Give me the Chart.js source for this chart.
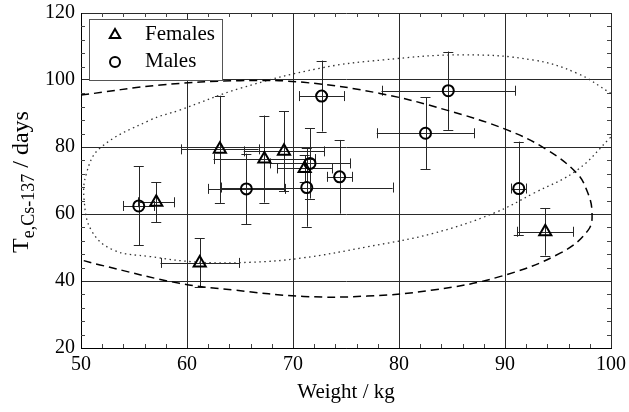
<!DOCTYPE html>
<html><head><meta charset="utf-8">
<script src="https://cdn.jsdelivr.net/npm/chart.js@4/dist/chart.umd.min.js"></script>
<style>html,body{margin:0;padding:0;background:#fff;}#wrap{width:629px;height:412px;}</style>
</head><body><div id="wrap"><canvas id="c" width="629" height="412"></canvas></div>
<script>
// ---- data ----
const femaleWeight    = [57.1, 61.2, 63.1, 67.3, 69.15, 71.1, 93.8];
const femaleTe        = [63.5, 45.4, 79.3, 76.4, 78.7, 73.6, 54.7];
const femaleWeightErr = [1.7, 3.7, 3.65, 4.8, 3.8, 2.6, 2.65];
const femaleTeErr     = [6.0, 7.3, 16.0, 13.0, 11.9, 4.0, 7.1];

const maleWeight    = [55.45, 65.6, 72.7, 71.6, 71.3, 74.4, 82.5, 84.65, 91.3];
const maleTe        = [62.4, 67.5, 95.2, 75.1, 67.9, 71.1, 84.1, 96.8, 67.6];
const maleWeightErr = [1.45, 3.6, 2.1, 3.8, 8.1, 1.2, 4.6, 6.3, 0.7];
const maleTeErr     = [11.8, 10.5, 10.6, 10.5, 11.7, 11.0, 10.7, 11.7, 14.0];

const dashedEllipseX = [50, 57.5, 65, 71, 78.2, 84.5, 90.2, 94, 96.8, 97.7, 98.2, 97.85, 95.2, 89.5, 83.2, 77, 71, 64.4, 59.3, 51.8, 50];
const dashedEllipseY = [95.5, 98.5, 99.8, 99.3, 96, 91, 85.1, 79.1, 72.1, 67.2, 61.0, 55.2, 48.3, 41.3, 37.3, 35.5, 35.4, 37.3, 39.3, 44.8, 46.3];

const dottedEllipseX = [100, 96.8, 92.6, 86, 78.5, 72.5, 65, 59.3, 56.5, 51.8, 50.5, 50.3, 51, 53, 56.5, 61.2, 66, 70.7, 77, 83.2, 88.9, 92.7, 96.8, 100];
const dottedEllipseY = [96, 102, 106, 107.5, 106, 103.5, 97.5, 91, 88, 79.7, 72, 64, 55, 49.3, 47.3, 45.6, 45.6, 46.8, 50.2, 54.2, 60.2, 66.2, 73.1, 83];

const xTicks = [50, 60, 70, 80, 90, 100];
const yTicks = [20, 40, 60, 80, 100, 120];
const seriesNames = ['Females', 'Males'];
const xTitle = 'Weight / kg';
const yTitleMain = 'T', yTitleSub = 'e,Cs-137', yTitleRest = ' / days';

const SERIF = "'Liberation Serif', 'Times New Roman', serif";

function pts(xs, ys){ return xs.map((v,i)=>({x:v, y:ys[i]})); }

const errorBars = {
  id: 'errorBars',
  beforeDatasetsDraw(chart){
    const {ctx, scales:{x, y}} = chart;
    const groups = [[femaleWeight, femaleTe, femaleWeightErr, femaleTeErr],
                    [maleWeight, maleTe, maleWeightErr, maleTeErr]];
    ctx.save();
    ctx.strokeStyle = '#262626';
    ctx.lineWidth = 1;
    const cap = 5;
    for (const [ws, ts, we, te] of groups){
      ws.forEach((w, i) => {
        const px = x.getPixelForValue(w), py = y.getPixelForValue(ts[i]);
        const xl = x.getPixelForValue(w - we[i]), xr = x.getPixelForValue(w + we[i]);
        const yt = y.getPixelForValue(ts[i] + te[i]), yb = y.getPixelForValue(ts[i] - te[i]);
        ctx.beginPath();
        ctx.moveTo(xl, Math.round(py)+0.5); ctx.lineTo(xr, Math.round(py)+0.5);
        ctx.moveTo(Math.round(xl)+0.5, py-cap); ctx.lineTo(Math.round(xl)+0.5, py+cap);
        ctx.moveTo(Math.round(xr)+0.5, py-cap); ctx.lineTo(Math.round(xr)+0.5, py+cap);
        ctx.moveTo(Math.round(px)+0.5, yt); ctx.lineTo(Math.round(px)+0.5, yb);
        ctx.moveTo(px-cap, Math.round(yt)+0.5); ctx.lineTo(px+cap, Math.round(yt)+0.5);
        ctx.moveTo(px-cap, Math.round(yb)+0.5); ctx.lineTo(px+cap, Math.round(yb)+0.5);
        ctx.stroke();
      });
    }
    // minor ticks
    const a = chart.chartArea;
    ctx.strokeStyle = '#444';
    ctx.beginPath();
    for (let v = 52; v < 100; v += 2){
      if (v % 10 === 0) continue;
      const p = Math.round(x.getPixelForValue(v)) + 0.5;
      ctx.moveTo(p, a.bottom); ctx.lineTo(p, a.bottom - 4);
      ctx.moveTo(p, a.top); ctx.lineTo(p, a.top + 4);
    }
    for (let v = 24; v < 120; v += 4){
      if (v % 20 === 0) continue;
      const p = Math.round(y.getPixelForValue(v)) + 0.5;
      ctx.moveTo(a.left, p); ctx.lineTo(a.left + 4, p);
      ctx.moveTo(a.right, p); ctx.lineTo(a.right - 4, p);
    }
    ctx.stroke();
    ctx.restore();
  }
};

const extras = {
  id: 'extras',
  afterDraw(chart){
    const {ctx} = chart;
    ctx.save();
    // legend box
    ctx.fillStyle = '#fff';
    ctx.fillRect(89, 19, 133, 61);
    ctx.strokeStyle = '#555';
    ctx.lineWidth = 1;
    ctx.strokeRect(89.5, 19.5, 133, 61);
    ctx.strokeStyle = '#000';
    ctx.lineWidth = 2;
    // triangle
    const tx = 115, ty = 35, r = 6;
    ctx.beginPath();
    ctx.moveTo(tx, ty - r);
    ctx.lineTo(tx + r*Math.sin(2*Math.PI/3), ty - r*Math.cos(2*Math.PI/3));
    ctx.lineTo(tx + r*Math.sin(4*Math.PI/3), ty - r*Math.cos(4*Math.PI/3));
    ctx.closePath();
    ctx.stroke();
    ctx.beginPath();
    ctx.arc(115, 62, 5, 0, Math.PI*2);
    ctx.stroke();
    ctx.fillStyle = '#000';
    ctx.font = '21px ' + SERIF;
    ctx.textBaseline = 'middle';
    ctx.textAlign = 'left';
    ctx.fillText(seriesNames[0], 145, 34);
    ctx.fillText(seriesNames[1], 145, 61);
    // x title
    ctx.textAlign = 'center';
    ctx.fillText(xTitle, 346, 392);
    // y title with subscript
    ctx.translate(22, 182);
    ctx.rotate(-Math.PI/2);
    ctx.textAlign = 'left';
    const fMain = '24px ' + SERIF, fSub = '18px ' + SERIF;
    ctx.font = fMain; const w1 = ctx.measureText(yTitleMain).width, w3 = ctx.measureText(yTitleRest).width;
    ctx.font = fSub; const w2 = ctx.measureText(yTitleSub).width;
    let sx = -(w1 + w2 + w3)/2;
    ctx.font = fMain; ctx.fillText(yTitleMain, sx, 0); sx += w1;
    ctx.font = fSub; ctx.fillText(yTitleSub, sx, 7); sx += w2;
    ctx.font = fMain; ctx.fillText(yTitleRest, sx, 0);
    ctx.restore();
  }
};

function zeroPad(s){ s.paddingTop = 0; s.paddingBottom = 0; s.paddingLeft = 0; s.paddingRight = 0; }

new Chart(document.getElementById('c'), {
  type: 'scatter',
  data: {
    datasets: [
      { label: seriesNames[0], data: pts(femaleWeight, femaleTe), pointStyle: 'triangle', pointRadius: 7, pointHoverRadius: 7,
        borderColor: '#000', backgroundColor: 'rgba(0,0,0,0)', borderWidth: 2, pointBorderWidth: 2 },
      { label: seriesNames[1], data: pts(maleWeight, maleTe), pointStyle: 'circle', pointRadius: 5.5, pointHoverRadius: 5.5,
        borderColor: '#000', backgroundColor: 'rgba(0,0,0,0)', borderWidth: 2, pointBorderWidth: 2 },
      { label: 'dashed', data: pts(dashedEllipseX, dashedEllipseY), showLine: true, pointRadius: 0, tension: 0.4,
        borderColor: '#000', borderWidth: 1.5, borderDash: [8, 5], fill: false },
      { label: 'dotted', data: pts(dottedEllipseX, dottedEllipseY), showLine: true, pointRadius: 0, tension: 0.4,
        borderColor: '#333', borderWidth: 1.3, borderDash: [1.5, 3.5], fill: false }
    ]
  },
  options: {
    responsive: false,
    animation: false,
    devicePixelRatio: 1,
    layout: { padding: { left: 0, right: 18, top: 13, bottom: 0 } },
    plugins: { legend: { display: false }, tooltip: { enabled: false } },
    scales: {
      x: {
        type: 'linear', min: 50, max: 100,
        afterBuildTicks: s => { s.ticks = xTicks.map(v => ({value: v})); },
        afterFit: s => { s.height = 64; zeroPad(s); },
        ticks: { color: '#000', font: { family: SERIF, size: 20, lineHeight: 1 }, padding: 7, maxRotation: 0 },
        grid: { color: '#2a2a2a', lineWidth: 1, drawTicks: false },
        border: { color: '#000', width: 1 }
      },
      y: {
        type: 'linear', min: 20, max: 120,
        afterBuildTicks: s => { s.ticks = yTicks.map(v => ({value: v})); },
        afterFit: s => { s.width = 81; zeroPad(s); },
        ticks: { color: '#000', font: { family: SERIF, size: 20, lineHeight: 1 }, padding: 6 },
        grid: { color: '#2a2a2a', lineWidth: 1, drawTicks: false },
        border: { color: '#000', width: 1 }
      }
    }
  },
  plugins: [errorBars, extras]
});
</script></body></html>
